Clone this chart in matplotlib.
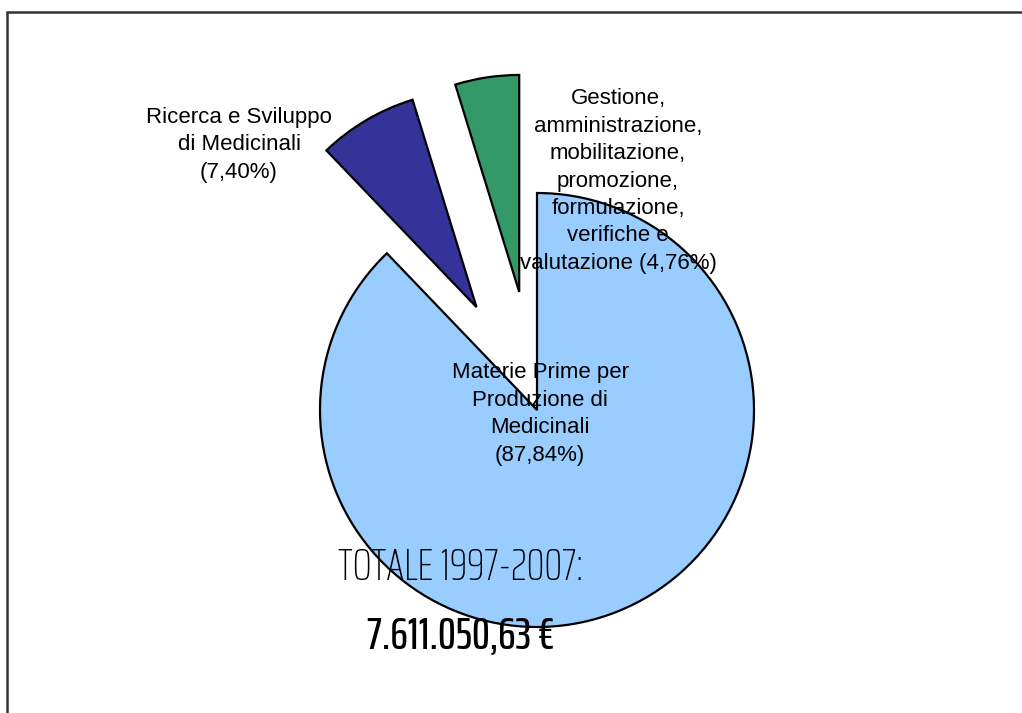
import matplotlib.pyplot as plt
from matplotlib.patches import Rectangle

# data
categories = ['Materie Prime per\nProduzione di\nMedicinali\n(87,84%)',
              'Ricerca e Sviluppo\ndi Medicinali\n(7,40%)',
              'Gestione,\namministrazione,\nmobilitazione,\npromozione,\nformulazione,\nverifiche e\nvalutazione (4,76%)']
shares = [87.84, 7.40, 4.76]
colors = ['#99CCFF', '#333399', '#339966']
explode = [0.0, 0.55, 0.55]
totale_title = 'TOTALE 1997-2007:'
totale_value = '7.611.050,63 €'

W, H = 1022, 713
fig = plt.figure(figsize=(W / 100, H / 100), dpi=100)
ax = fig.add_axes([0, 0, 1, 1])

# pie centre and radius in pixels
cx, cy, R = 537, 410, 217

ax.pie(shares, colors=colors, explode=explode, startangle=90, counterclock=False,
       radius=1, wedgeprops=dict(edgecolor='black', linewidth=1.6))
ax.set_xlim(-cx / R, (W - cx) / R)
ax.set_ylim(-(H - cy) / R, cy / R)
ax.axis('off')


def px(x, y):
    return (x - cx) / R, (cy - y) / R


lab_pos = [(540, 414), (239, 145), (618, 181)]
for txt, (x, y) in zip(categories, lab_pos):
    ax.text(*px(x, y), txt, ha='center', va='center', fontsize=16,
            family='Liberation Sans', linespacing=1.4)

ax.text(*px(460, 568), totale_title, ha='center', va='center', fontsize=32,
        family=['Saira ExtraCondensed', 'DejaVu Sans'], fontweight='light')
ax.text(*px(461, 636), totale_value, ha='center', va='center', fontsize=32,
        family=['Saira ExtraCondensed', 'DejaVu Sans'], fontweight='medium')

# outer frame
fig.patches.append(Rectangle((7 / W, -0.1), 1.2, 1.1 - 12.5 / H,
                             transform=fig.transFigure, fill=False,
                             edgecolor='#333333', linewidth=1.8))

plt.savefig('out.png', dpi=100)
